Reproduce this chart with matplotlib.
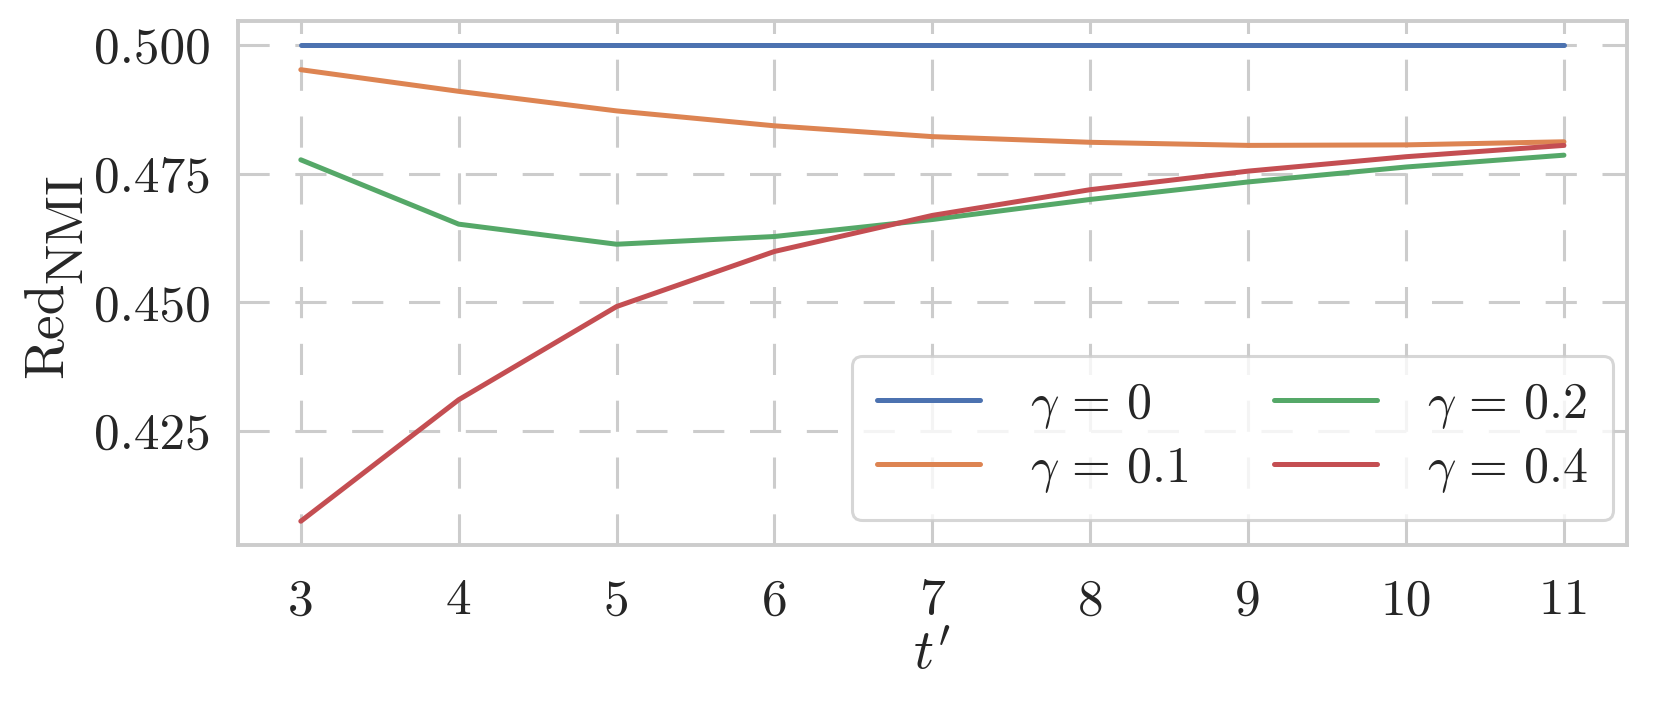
import matplotlib
matplotlib.use("Agg")
import matplotlib.pyplot as plt
import seaborn as sns

t_prime = [3, 4, 5, 6, 7, 8, 9, 10, 11]
labels = [r"$\gamma \,=\, 0$", r"$\gamma \,=\, 0.1$", r"$\gamma \,=\, 0.2$", r"$\gamma \,=\, 0.4$"]
gamma_0 = [0.500, 0.500, 0.500, 0.500, 0.500, 0.500, 0.500, 0.500, 0.500]
gamma_01 = [0.4952, 0.4910, 0.4872, 0.4843, 0.4822, 0.4811, 0.4805, 0.4806, 0.4812]
gamma_02 = [0.4777, 0.4652, 0.4613, 0.4628, 0.4661, 0.4700, 0.4734, 0.4763, 0.4786]
gamma_04 = [0.4075, 0.4311, 0.4492, 0.4599, 0.4669, 0.4719, 0.4755, 0.4783, 0.4805]
yticks = [0.425, 0.450, 0.475, 0.500]
xticks = [3, 4, 5, 6, 7, 8, 9, 10, 11]

sns.set_theme(style="whitegrid")
plt.rcParams.update({
    "font.family": "serif",
    "font.serif": ["cmr10"],
    "mathtext.fontset": "cm",
    "axes.formatter.use_mathtext": True,
    "axes.edgecolor": "#cccccc",
    "axes.linewidth": 1.4,
    "grid.color": "#cccccc",
    "grid.linestyle": (0, (10.2, 8.4)),
    "grid.linewidth": 1.1,
})

W, H = 1662, 706
colors = ["#4C72B0", "#DD8452", "#55A868", "#C44E52"]
fig = plt.figure(figsize=(W / 200, H / 200), dpi=200)
ax = fig.add_axes([0.143, 0.228, 0.836, 0.742])
for ys, lab, c in zip([gamma_0, gamma_01, gamma_02, gamma_04], labels, colors):
    ax.plot(t_prime, ys, color=c, lw=1.8, label=lab,
            solid_capstyle="round", solid_joinstyle="round")

ax.set_xticks(xticks)
ax.set_xticklabels([str(v) for v in xticks])
ax.set_yticks(yticks)
ax.set_yticklabels([f"{v:.3f}" for v in yticks])
ax.tick_params(labelsize=18.5, colors="#262626")
ax.tick_params(axis="x", pad=6)
ax.tick_params(axis="y", pad=3.8)
ax.set_xlabel(r"$t'$", fontsize=20, color="#262626", labelpad=2)

# y label: "Red" with a same-size lowered "NMI"
fig.text(61.7 / W, 1 - 378 / H, "Red", rotation=90, rotation_mode="anchor",
         ha="left", va="baseline", fontsize=20, color="#262626")
fig.text(81.7 / W, 1 - 283 / H, "NMI", rotation=90, rotation_mode="anchor",
         ha="left", va="baseline", fontsize=19.5, color="#262626")

leg = ax.legend(ncol=2, loc="lower right", bbox_to_anchor=(0.990, 0.0485),
                borderaxespad=0, fontsize=18, frameon=True,
                handlelength=2.06, columnspacing=1.7, borderpad=0.5,
                labelspacing=0.28, handletextpad=1.0)
leg.get_frame().set_edgecolor("#cccccc")
leg.get_frame().set_linewidth(1.1)
for t in leg.get_texts():
    t.set_color("#262626")
fig.savefig("out.png", dpi=200)
